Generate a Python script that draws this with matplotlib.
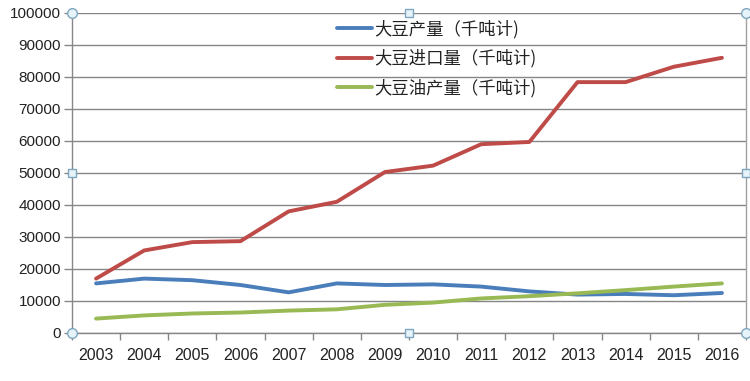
import matplotlib
matplotlib.use("Agg")
import matplotlib.pyplot as plt
import numpy as np

years = [str(y) for y in range(2003, 2017)]
production = [15500, 17000, 16500, 15000, 12700, 15500, 15000, 15200, 14500, 13000, 12000, 12200, 11800, 12500]
imports = [17000, 25800, 28400, 28700, 38000, 41000, 50300, 52300, 59000, 59700, 78400, 78400, 83200, 86000]
oil = [4500, 5500, 6100, 6400, 7000, 7400, 8800, 9500, 10800, 11500, 12400, 13400, 14500, 15500]
labels = ["大豆产量（千吨计)", "大豆进口量（千吨计)", "大豆油产量（千吨计)"]
colors = ["#4A7EBB", "#BE4B48", "#98B954"]

plt.rcParams['font.family'] = ['Noto Sans CJK SC', 'DejaVu Sans']

fig = plt.figure(figsize=(7.5, 3.81), dpi=100)
ax = fig.add_axes([72/750, 1-333/381, (746-72)/750, (333-13)/381])

x = np.arange(len(years))
for vals, lab, c in zip([production, imports, oil], labels, colors):
    ax.plot(x, vals, color=c, lw=2.8, label=lab, solid_capstyle='round', solid_joinstyle='round')

ax.set_xlim(-0.5, len(years) - 0.5)
ax.set_ylim(0, 100000)
ax.set_yticks(np.arange(0, 100001, 10000))
ax.set_yticklabels([str(v) for v in range(0, 100001, 10000)], family=['Liberation Sans'], fontsize=11, color='#222222')
ax.set_xticks(x)
ax.set_xticklabels(years, family=['Liberation Sans'], fontsize=11.5, color='#222222')
ax.set_xticks(np.arange(-0.5, len(years), 1.0), minor=True)
ax.tick_params(axis='x', which='major', length=0, pad=11)
ax.tick_params(axis='x', which='minor', length=5, color='#868686', width=1)
ax.tick_params(axis='y', which='major', length=6, color='#868686', width=1, pad=2)

ax.grid(axis='y', color='#868686', lw=1)
ax.set_axisbelow(True)
ax.spines['top'].set_visible(False)
ax.spines['left'].set_color('#868686')
ax.spines['bottom'].set_color('#868686')
ax.spines['right'].set_color('#A0A0A0')
for s in ax.spines.values():
    s.set_linewidth(1)

leg = ax.legend(loc='upper left', bbox_to_anchor=(0.383, 1.0), frameon=False, fontsize=12.5,
                handlelength=2.0, labelspacing=0.62, handletextpad=0.15, borderaxespad=0.0)
for txt in leg.get_texts():
    txt.set_color('#222222')

# selection handles
hx = [0, 0.5, 1, 0, 1, 0, 0.5, 1]
hy = [1, 1, 1, 0.5, 0.5, 0, 0, 0]
mk = ['o', 's', 'o', 's', 's', 'o', 's', 'o']
for a, b, m in zip(hx, hy, mk):
    ax.plot(a, b, marker=m, ms=7 if m == 'o' else 6, mfc='#E6F3F8', mec='#7FA7C0', mew=1,
            transform=ax.transAxes, clip_on=False, zorder=10)

fig.savefig("out.png", dpi=100)
